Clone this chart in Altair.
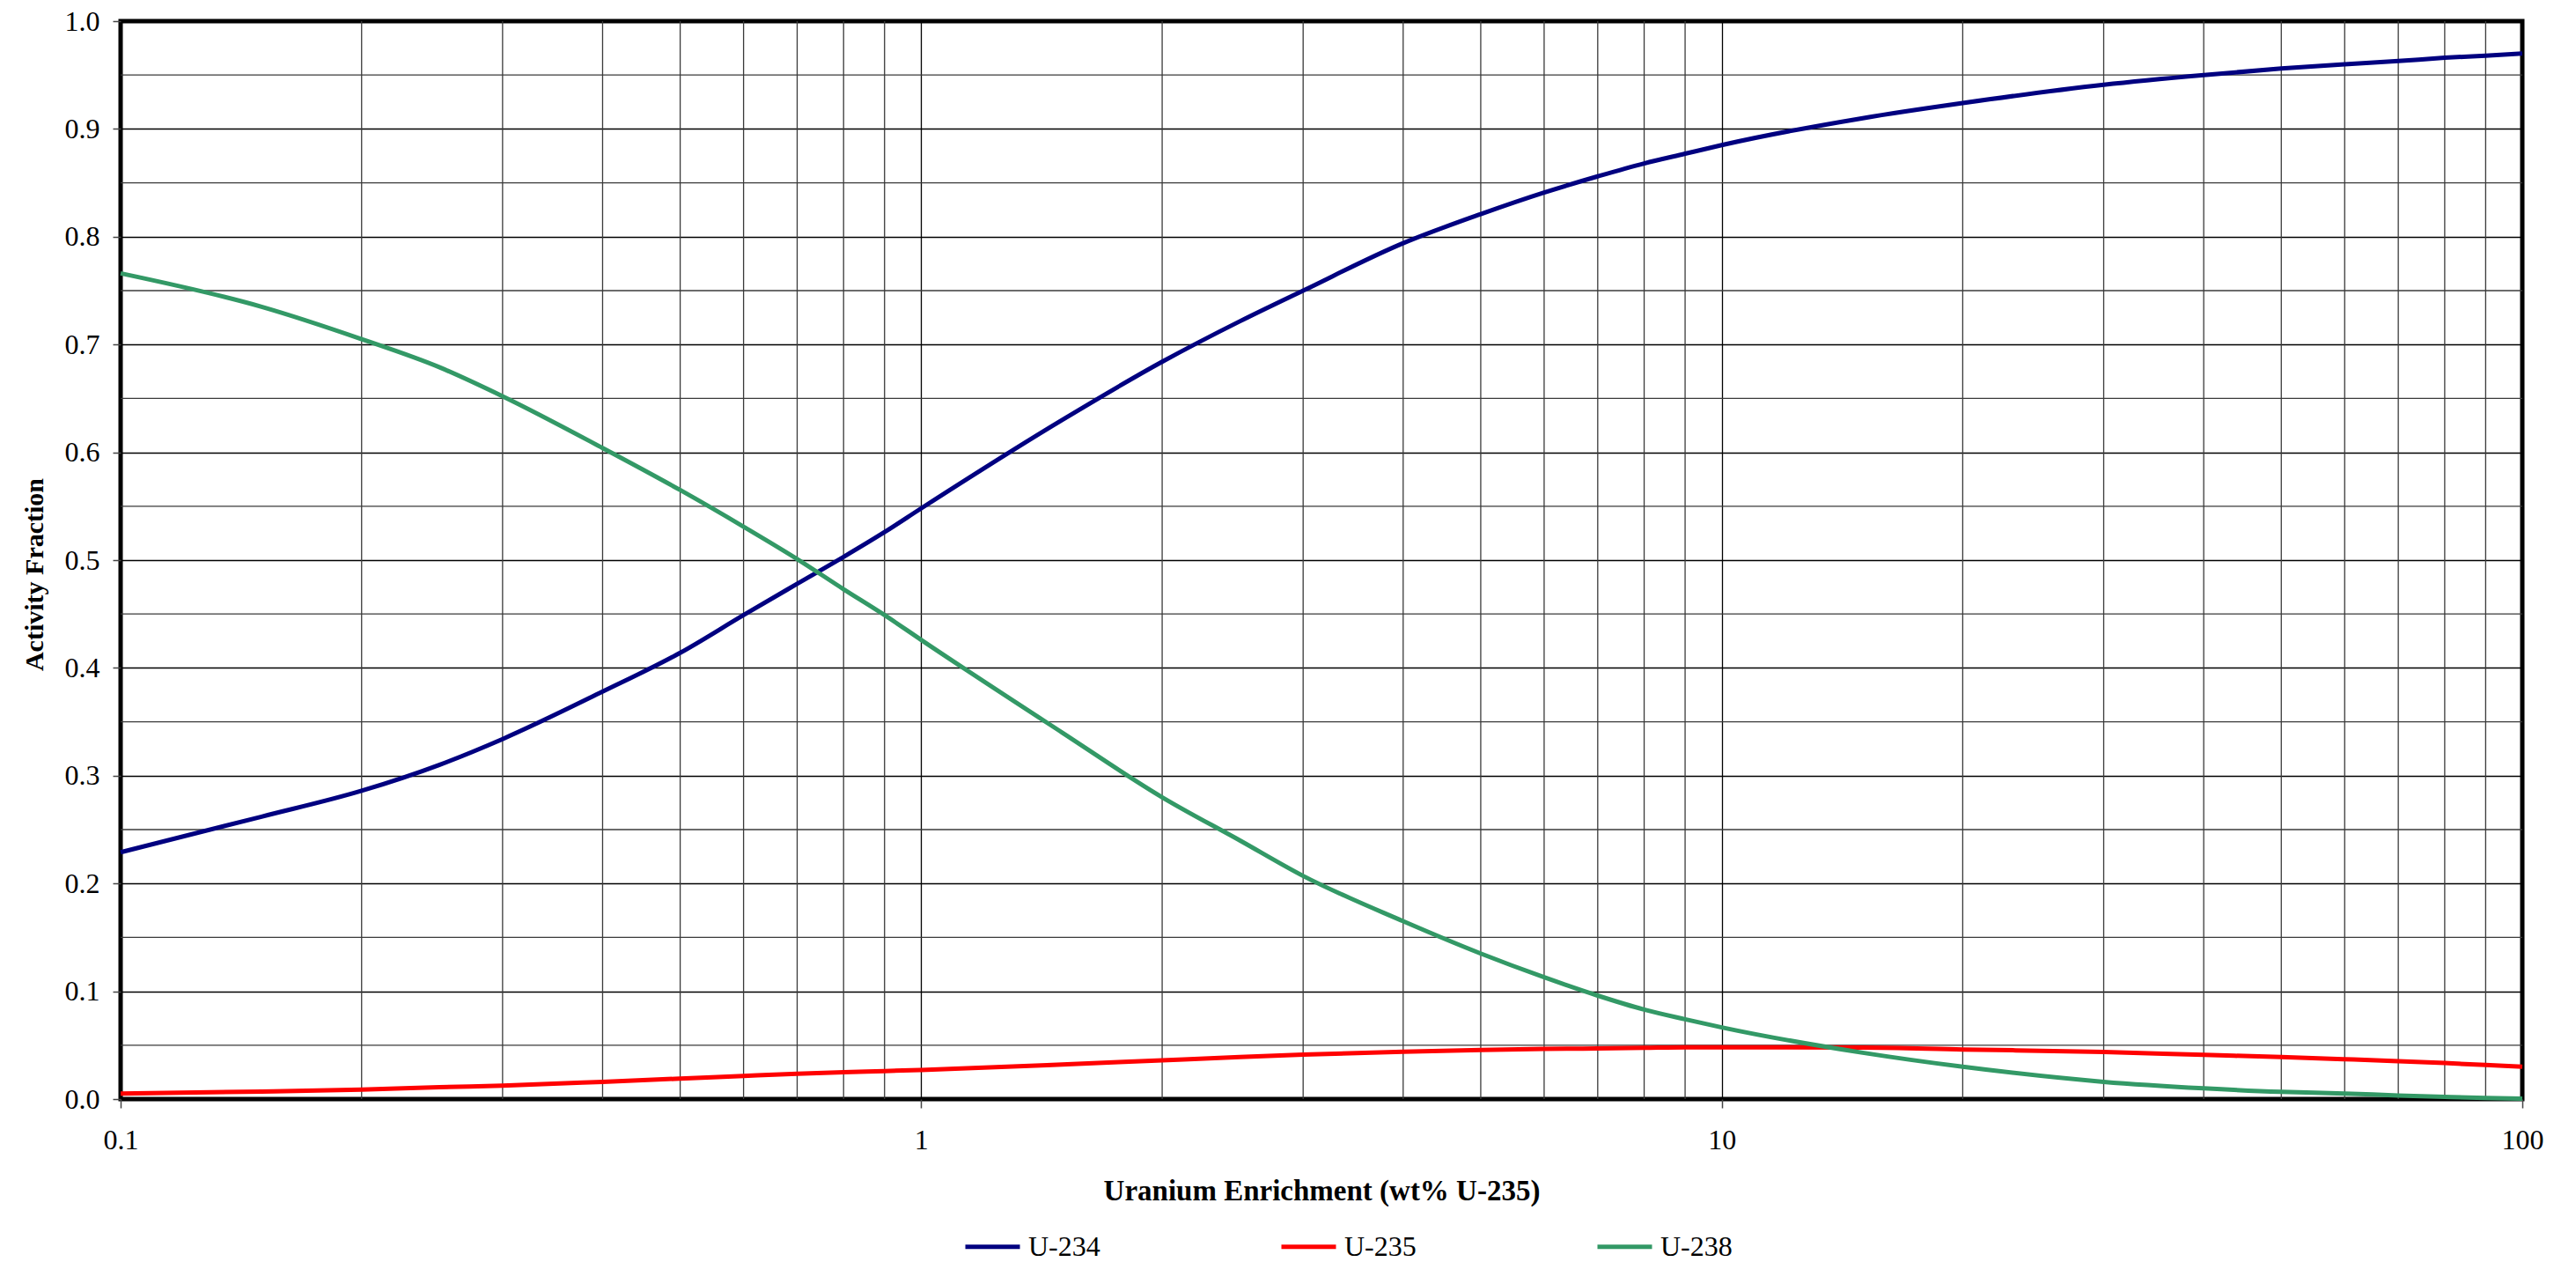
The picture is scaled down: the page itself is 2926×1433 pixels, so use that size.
import altair as alt
import pandas as pd

# ---- data ----
enrichment = [0.1, 0.15, 0.2, 0.25, 0.3, 0.4, 0.5, 0.6, 0.7, 0.8, 0.9, 1, 1.5, 2, 2.5,
              3, 4, 5, 6, 7, 8, 9, 10, 15, 20, 30, 40, 50, 60, 70, 80, 90, 100]
u234 = [0.229, 0.262, 0.286, 0.310, 0.334, 0.378, 0.414, 0.449, 0.478, 0.503, 0.526,
        0.548, 0.630, 0.684, 0.7215, 0.750, 0.794, 0.821, 0.841, 0.856, 0.868, 0.877,
        0.885, 0.910, 0.924, 0.941, 0.950, 0.956, 0.960, 0.963, 0.966, 0.968, 0.970]
u235 = [0.0052, 0.007, 0.0088, 0.011, 0.0125, 0.016, 0.019, 0.0215, 0.0235, 0.025, 0.026,
        0.027, 0.032, 0.036, 0.039, 0.0412, 0.044, 0.0455, 0.0465, 0.047, 0.0475, 0.048,
        0.048, 0.0478, 0.046, 0.0438, 0.041, 0.039, 0.037, 0.0352, 0.0334, 0.0317, 0.030]
u238 = [0.766, 0.735, 0.705, 0.679, 0.652, 0.604, 0.565, 0.531, 0.501, 0.473, 0.449,
        0.426, 0.340, 0.280, 0.240, 0.207, 0.165, 0.135, 0.113, 0.096, 0.083, 0.074,
        0.0665, 0.043, 0.030, 0.016, 0.010, 0.0067, 0.0052, 0.0033, 0.002, 0.001, 0.0005]

series_names = ["U-234", "U-235", "U-238"]
series_colors = ["#000080", "#FF0000", "#339966"]

x_major = [0.1, 1, 10, 100]
x_minor = [0.2, 0.3, 0.4, 0.5, 0.6, 0.7, 0.8, 0.9,
           2, 3, 4, 5, 6, 7, 8, 9,
           20, 30, 40, 50, 60, 70, 80, 90]
y_major = [0.0, 0.1, 0.2, 0.3, 0.4, 0.5, 0.6, 0.7, 0.8, 0.9, 1.0]
y_minor = [0.05, 0.15, 0.25, 0.35, 0.45, 0.55, 0.65, 0.75, 0.85, 0.95]

x_title = "Uranium Enrichment (wt% U-235)"
y_title = "Activity Fraction"

# ---- tables ----
rows = []
for name, vals in zip(series_names, [u234, u235, u238]):
    for xv, yv in zip(enrichment, vals):
        rows.append({"x": xv, "y": yv, "Isotope": name})
lines_df = pd.DataFrame(rows)
vminor_df = pd.DataFrame({"x": x_minor})
hminor_df = pd.DataFrame({"y": y_minor})

FONT = "Liberation Serif"
W, H = 2728, 1224

x_scale = alt.Scale(type="log", domain=[0.1, 100], nice=False)
y_scale = alt.Scale(domain=[0, 1], nice=False)

x_axis = alt.Axis(
    values=x_major, format="~g", grid=True, gridColor="#000", gridWidth=1.3,
    domain=False, ticks=True, tickSize=10, tickColor="#444", tickWidth=1.5,
    labelFont=FONT, labelFontSize=32, labelColor="black", labelPadding=21,
    labelFlush=False, labelOverlap=False, labelBound=False,
    title=x_title, titleFont=FONT, titleFontSize=33, titleFontWeight="bold",
    titleColor="black", titleX=W / 2, titleY=104, titleBaseline="middle",
)
y_axis = alt.Axis(
    values=y_major, format=".1f", grid=True, gridColor="#000", gridWidth=1.3,
    domain=False, ticks=True, tickSize=9, tickColor="#444", tickWidth=1.5,
    labelFont=FONT, labelFontSize=32, labelColor="black", labelPadding=15,
    labelOverlap=False,
    title=y_title, titleFont=FONT, titleFontSize=30, titleFontWeight="bold",
    titleColor="black", titleX=-98, titleY=628, titleAngle=270,
    titleBaseline="middle", titleAlign="center",
)

vminor = alt.Chart(vminor_df).mark_rule(color="#3a3a3a", strokeWidth=1.3).encode(
    x=alt.X("x:Q", scale=x_scale, axis=x_axis)
)
hminor = alt.Chart(hminor_df).mark_rule(color="#3a3a3a", strokeWidth=1.3).encode(
    y=alt.Y("y:Q", scale=y_scale, axis=y_axis)
)

lines = alt.Chart(lines_df).mark_line(interpolate="monotone", strokeWidth=5).encode(
    x=alt.X("x:Q", scale=x_scale, axis=x_axis),
    y=alt.Y("y:Q", scale=y_scale, axis=y_axis),
    color=alt.Color(
        "Isotope:N",
        scale=alt.Scale(domain=series_names, range=series_colors),
        legend=alt.Legend(
            orient="none", legendX=957, legendY=1358, direction="horizontal",
            title=None, symbolType="stroke", symbolSize=3844, symbolStrokeWidth=5,
            labelFont=FONT, labelFontSize=32, labelColor="black", labelOffset=7,
            columnPadding=195, labelLimit=400,
        ),
    ),
)

chart = alt.layer(vminor, hminor, lines).properties(
    width=W, height=H,
    background="white",
    autosize=alt.AutoSizeParams(type="none"),
    padding={"left": 129, "top": 16, "right": 45, "bottom": 185},
).configure_view(stroke="black", strokeWidth=5)

chart.save("out.html", embed_options={"renderer": "svg", "actions": False})
